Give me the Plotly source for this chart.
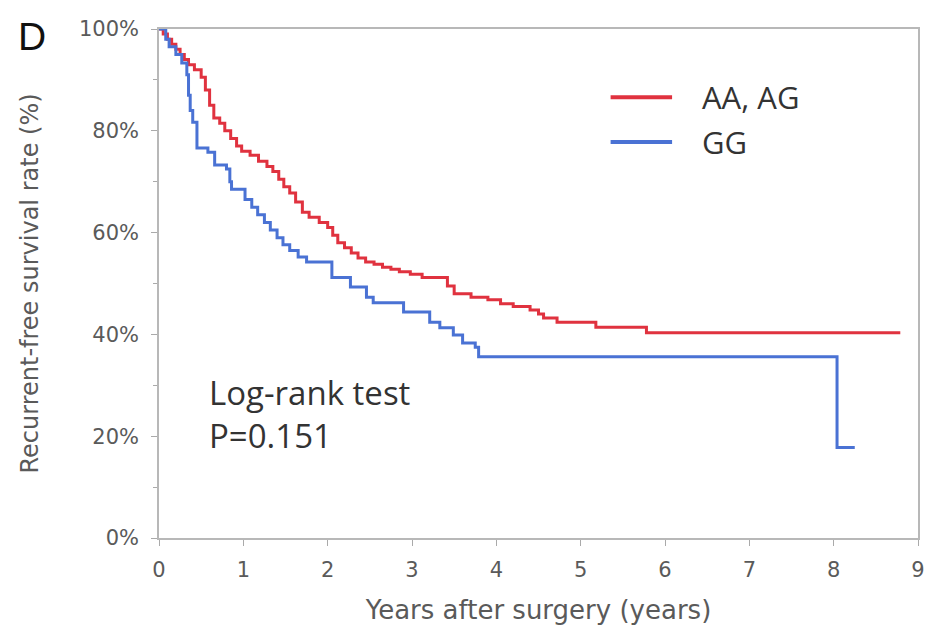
import plotly.graph_objects as go

# Kaplan-Meier step data
red_name = "AA, AG"
red_time = [0, 0.05, 0.1, 0.15, 0.2, 0.25, 0.3, 0.35, 0.42, 0.5, 0.55, 0.6, 0.65, 0.72, 0.78,
            0.85, 0.92, 0.98, 1.08, 1.18, 1.28, 1.35, 1.42, 1.48, 1.55, 1.62, 1.7, 1.78, 1.9,
            2.0, 2.06, 2.12, 2.2, 2.28, 2.36, 2.45, 2.55, 2.65, 2.75, 2.85, 2.98, 3.12, 3.42,
            3.5, 3.7, 3.9, 4.05, 4.2, 4.4, 4.5, 4.56, 4.72, 5.18, 5.78, 8.79]
red_surv = [100, 99, 98, 97, 96, 95, 94, 93, 92, 90.5, 88, 85, 82.5, 81.5, 80,
            78.5, 77, 76, 75.2, 74, 73, 72, 70.5, 69, 67.8, 66, 64, 63, 62,
            61, 59.5, 58, 57, 56, 55, 54.2, 53.8, 53.2, 52.8, 52.3, 51.8, 51.2, 49.5,
            48, 47.3, 46.8, 46, 45.5, 44.8, 44, 43.2, 42.4, 41.4, 40.3, 40.3]

blue_name = "GG"
blue_time = [0, 0.08, 0.12, 0.2, 0.27, 0.33, 0.35, 0.37, 0.4, 0.45, 0.58, 0.66, 0.8, 0.84,
             0.86, 1.02, 1.1, 1.17, 1.25, 1.32, 1.4, 1.47, 1.55, 1.65, 1.75, 2.05, 2.27,
             2.46, 2.54, 2.9, 3.21, 3.33, 3.49, 3.6, 3.75, 3.79, 8.04, 8.25]
blue_surv = [100, 98, 96.5, 95, 93.3, 91, 87, 84, 81.7, 76.6, 75.8, 73.3, 72.5, 70,
             68.5, 66.5, 65, 63.5, 62, 60.5, 59, 57.6, 56.5, 55.2, 54.2, 51.2, 49.3,
             47.3, 46.2, 44.4, 42.4, 41.3, 39.9, 38.3, 37.5, 35.6, 17.8, 17.8]

x_ticks = [0, 1, 2, 3, 4, 5, 6, 7, 8, 9]
y_ticks = [0, 20, 40, 60, 80, 100]
y_tick_labels = ["0%", "20%", "40%", "60%", "80%", "100%"]

RED = "#e0323f"
BLUE = "#4a72d4"
FONT = "DejaVu Sans"
GREY = "#5a5a5a"

fig = go.Figure()
fig.add_trace(go.Scatter(x=red_time, y=red_surv, mode="lines", name=red_name,
                         showlegend=False, line=dict(color=RED, width=3, shape="hv")))
fig.add_trace(go.Scatter(x=blue_time, y=blue_surv, mode="lines", name=blue_name,
                         showlegend=False, line=dict(color=BLUE, width=3, shape="hv")))

fig.update_layout(
    width=928, height=627,
    margin=dict(l=159, r=10, t=29, b=89, autoexpand=False),
    paper_bgcolor="white", plot_bgcolor="white",
    font=dict(family=FONT, color=GREY),
    showlegend=False,
    xaxis=dict(range=[0, 9], tickvals=x_ticks, ticks="outside", ticklen=6,
               tickcolor="#aaaaaa", showline=True, linecolor="#b8b8b8", linewidth=1.5,
               mirror=True, showgrid=False, zeroline=False, automargin=False,
               ticklabelstandoff=6,
               tickfont=dict(size=21, color=GREY),
               title=dict(text="Years after surgery (years)", font=dict(size=26, color=GREY),
                          standoff=20)),
    yaxis=dict(range=[0, 100], tickvals=y_ticks, ticktext=y_tick_labels, ticks="outside",
               ticklen=6, tickcolor="#aaaaaa", showline=True, linecolor="#b8b8b8",
               linewidth=1.5, mirror=True, showgrid=False, zeroline=False, automargin=False,
               ticklabelstandoff=8,
               minor=dict(tickvals=[10, 30, 50, 70, 90], ticks="outside", ticklen=4,
                          tickcolor="#aaaaaa"),
               tickfont=dict(size=21, color=GREY),
               title=dict(text="Recurrent-free survival rate (%)",
                          font=dict(size=24, color=GREY), standoff=34)),
)

# manual legend (longer key lines, as in the reference)
legend_items = [(red_name, RED, 0.866), (blue_name, BLUE, 0.778)]
for name, color, ly in legend_items:
    fig.add_shape(type="line", xref="paper", yref="paper", x0=0.595, x1=0.676,
                  y0=ly, y1=ly, line=dict(color=color, width=4))
    fig.add_annotation(text=name, xref="paper", yref="paper", x=0.713, y=ly,
                       xanchor="left", yanchor="middle", showarrow=False,
                       font=dict(family="Open Sans", size=31, color="#333333"))

fig.add_annotation(text="D", xref="paper", yref="paper", x=-0.188, y=0.986,
                   xanchor="left", yanchor="middle", showarrow=False,
                   font=dict(family="Liberation Sans", size=39, color="#111111"))
fig.add_annotation(text="Log-rank test<br>P=0.151", xref="paper", yref="paper",
                   x=0.063, y=0.334, xanchor="left", yanchor="top", align="left",
                   showarrow=False,
                   font=dict(family="Open Sans", size=33, color="#333333"))

fig.write_html("out.html", config={"displayModeBar": False},
               post_script="document.body.style.margin='0';")
